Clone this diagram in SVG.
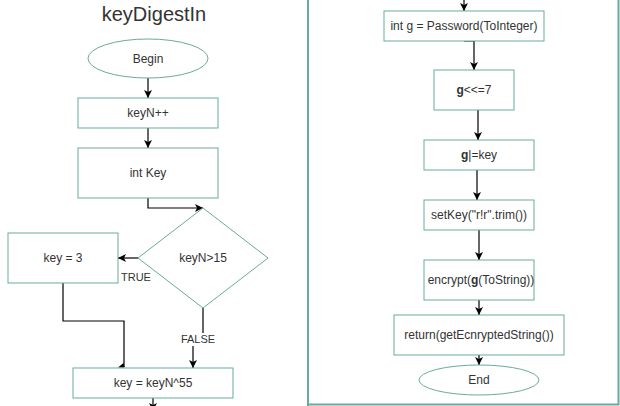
<svg xmlns="http://www.w3.org/2000/svg" width="620" height="406" viewBox="0 0 620 406">
<style>
.box{fill:#fff;stroke:#67AB9F;stroke-width:1}
.t{font-family:"Liberation Sans",Arial,sans-serif;font-size:12px;fill:#333;text-anchor:middle}
.lbl{font-family:"Liberation Sans",Arial,sans-serif;font-size:11px;fill:#333;text-anchor:middle}
.e{fill:none;stroke:#000;stroke-width:1.2}
.panel{fill:none;stroke:#67AB9F;stroke-width:2}
</style>
<defs>
<marker id="arr" markerUnits="userSpaceOnUse" markerWidth="10" markerHeight="10" refX="8" refY="4" orient="auto">
<path d="M0,0 L8,4 L0,8 L2,4 Z" fill="#000"/>
</marker>
</defs>
<rect width="620" height="406" fill="#fff"/>
<g id="panels">
<line class="panel" x1="308" y1="0" x2="308" y2="406"/>
<polyline class="panel" points="618.5,0 618.5,404.5 308,404.5"/>
</g>
<text id="title" x="154" y="21" style="font-family:'Liberation Sans',Arial,sans-serif;font-size:20px;fill:#333;text-anchor:middle">keyDigestIn</text>
<g id="connectors">
<line class="e" x1="148" y1="78" x2="148" y2="98" marker-end="url(#arr)"/>
<line class="e" x1="148" y1="128" x2="148" y2="148" marker-end="url(#arr)"/>
<polyline class="e" points="148,198 148,208 203,208" marker-end="url(#arr)"/>
<line class="e" x1="138" y1="258" x2="118" y2="258" marker-end="url(#arr)"/>
<polyline class="e" points="63,283 63,321 124,321 124,367"/>
<polygon points="118,367.5 123.5,363 124.5,367.5" fill="#000"/>
<polyline class="e" points="203,308 203,340 193,340 193,368" marker-end="url(#arr)"/>
<line class="e" x1="153" y1="398" x2="153" y2="406"/>
<polygon points="149,403 153,405 157,403 153,411" fill="#000"/>
<line class="e" x1="464" y1="0" x2="464" y2="11" marker-end="url(#arr)"/>
<polyline class="e" points="464,41 474,41 474,70" marker-end="url(#arr)"/>
<line class="e" x1="478" y1="110" x2="478" y2="140" marker-end="url(#arr)"/>
<line class="e" x1="477" y1="170" x2="477" y2="200" marker-end="url(#arr)"/>
<line class="e" x1="479" y1="230" x2="479" y2="260" marker-end="url(#arr)"/>
<line class="e" x1="479" y1="300" x2="479" y2="315" marker-end="url(#arr)"/>
<line class="e" x1="479" y1="355" x2="479" y2="365" marker-end="url(#arr)"/>
<rect x="180" y="333" width="36" height="13" fill="#fff"/>
<text class="lbl" x="198" y="343">FALSE</text>
<text class="lbl" x="136" y="281">TRUE</text>
</g>
<g id="begin">
<ellipse class="box" cx="148" cy="58.5" rx="60" ry="19.5"/>
<text class="t" x="148" y="62.5">Begin</text>
</g>
<g id="keyNpp">
<rect class="box" x="78" y="98" width="140" height="30"/>
<text class="t" x="148" y="117">keyN++</text>
</g>
<g id="intKey">
<rect class="box" x="78" y="148" width="140" height="50"/>
<text class="t" x="148" y="177">int Key</text>
</g>
<g id="decision">
<polygon class="box" points="203,208 268,258 203,308 138,258"/>
<text class="t" x="203" y="262">keyN&gt;15</text>
</g>
<g id="key3">
<rect class="box" x="8" y="233" width="110" height="50"/>
<text class="t" x="63" y="262">key = 3</text>
</g>
<g id="keyXor">
<rect class="box" x="73" y="368" width="160" height="30"/>
<text class="t" x="153" y="387">key = keyN^55</text>
</g>
<g id="intG">
<rect class="box" x="384" y="11" width="160" height="30"/>
<text class="t" x="464" y="30">int g = Password(ToInteger)</text>
</g>
<g id="shift">
<rect class="box" x="434" y="70" width="80" height="40"/>
<text class="t" x="474" y="94"><tspan font-weight="bold">g</tspan>&lt;&lt;=7</text>
</g>
<g id="orKey">
<rect class="box" x="424" y="140" width="110" height="30"/>
<text class="t" x="479" y="159"><tspan font-weight="bold">g</tspan>|=key</text>
</g>
<g id="setKey">
<rect class="box" x="424" y="200" width="110" height="30"/>
<text class="t" x="479" y="219">setKey("r!r".trim())</text>
</g>
<g id="encrypt">
<rect class="box" x="424" y="260" width="110" height="40"/>
<text class="t" x="481" y="284">encrypt(<tspan font-weight="bold">g</tspan>(ToString))</text>
</g>
<g id="return">
<rect class="box" x="394" y="315" width="170" height="40"/>
<text class="t" x="479" y="339">return(getEcnryptedString())</text>
</g>
<g id="end">
<ellipse class="box" cx="479" cy="380" rx="60" ry="15"/>
<text class="t" x="479" y="384">End</text>
</g>
</svg>
